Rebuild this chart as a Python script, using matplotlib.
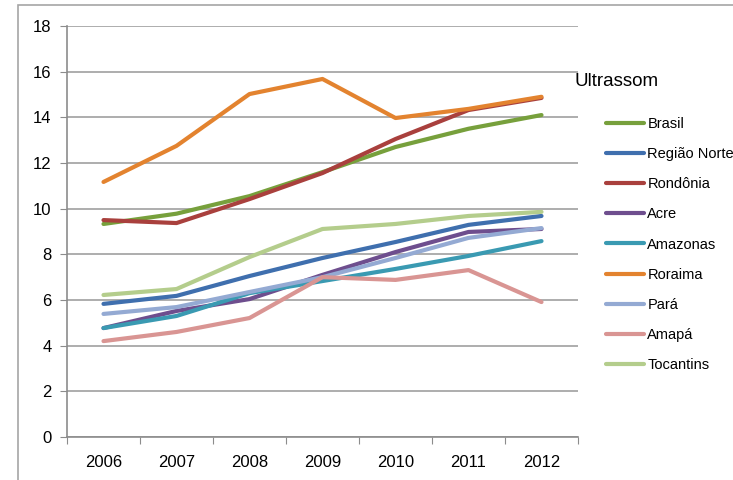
import matplotlib.pyplot as plt
import numpy as np
from matplotlib.patches import Rectangle

plt.rcParams["font.family"] = ["Liberation Sans", "DejaVu Sans"]

years = ["2006", "2007", "2008", "2009", "2010", "2011", "2012"]

brasil = [9.33, 9.78, 10.55, 11.6, 12.7, 13.5, 14.1]
regiao_norte = [5.83, 6.18, 7.05, 7.84, 8.54, 9.29, 9.68]
rondonia = [9.5, 9.37, 10.42, 11.56, 13.05, 14.32, 14.85]
acre = [4.77, 5.52, 6.04, 7.1, 8.1, 8.98, 9.11]
amazonas = [4.77, 5.3, 6.3, 6.83, 7.36, 7.93, 8.58]
roraima = [11.17, 12.75, 15.02, 15.68, 13.97, 14.37, 14.9]
para = [5.39, 5.69, 6.35, 7.0, 7.84, 8.72, 9.15]
amapa = [4.2, 4.6, 5.21, 7.0, 6.88, 7.31, 5.91]
tocantins = [6.22, 6.48, 7.88, 9.11, 9.33, 9.68, 9.86]

series = [
    ("Brasil", brasil, "#77A03C"),
    ("Região Norte", regiao_norte, "#3F6FAE"),
    ("Rondônia", rondonia, "#A9403D"),
    ("Acre", acre, "#6E4E8E"),
    ("Amazonas", amazonas, "#3A9AB2"),
    ("Roraima", roraima, "#E3832F"),
    ("Pará", para, "#94AAD3"),
    ("Amapá", amapa, "#D99593"),
    ("Tocantins", tocantins, "#B4CD8C"),
]

fig = plt.figure(figsize=(7.33, 4.8), dpi=100)
ax = fig.add_axes([67 / 733, 1 - 437 / 480, (578 - 67) / 733, (437 - 26) / 480])

# moldura externa do gráfico
fig.patches.append(Rectangle((18 / 733, -0.1), 1.2, 1 - 5 / 480 + 0.1,
                             transform=fig.transFigure, fill=False,
                             edgecolor="#A6A6A6", linewidth=1.2))

x = np.arange(len(years))
for name, vals, color in series:
    ax.plot(x, vals, color=color, linewidth=3, label=name, solid_capstyle="round")

ax.set_ylim(0, 18)
ax.set_yticks(range(0, 19, 2))
ax.set_xlim(-0.5, len(years) - 0.5)
ax.set_xticks(np.arange(-0.5, len(years), 1))
ax.set_xticklabels([])
ax.set_xticks(x, minor=True)
ax.set_xticklabels(years, minor=True)
ax.tick_params(axis="x", which="major", length=5, color="#8C8C8C", direction="out")
ax.tick_params(axis="x", which="minor", length=0, pad=13, labelsize=12)
ax.tick_params(axis="y", length=5, color="#8C8C8C", pad=6, labelsize=12)

ax.yaxis.grid(True, color="#A0A0A0", linewidth=1.2)
ax.set_axisbelow(True)
for side in ["top", "right"]:
    ax.spines[side].set_visible(False)
for side in ["left", "bottom"]:
    ax.spines[side].set_color("#8C8C8C")
    ax.spines[side].set_linewidth(1.2)

fig.text(575 / 733, 1 - 81 / 480, "Ultrassom", fontsize=13.5, va="center", ha="left")
leg = fig.legend(loc="upper left", bbox_to_anchor=(600 / 733, 1 - 111 / 480),
                 frameon=False, fontsize=10.5, handlelength=2.6, handletextpad=0.25,
                 labelspacing=1.11, borderaxespad=0)

fig.savefig("out.png", dpi=100)
